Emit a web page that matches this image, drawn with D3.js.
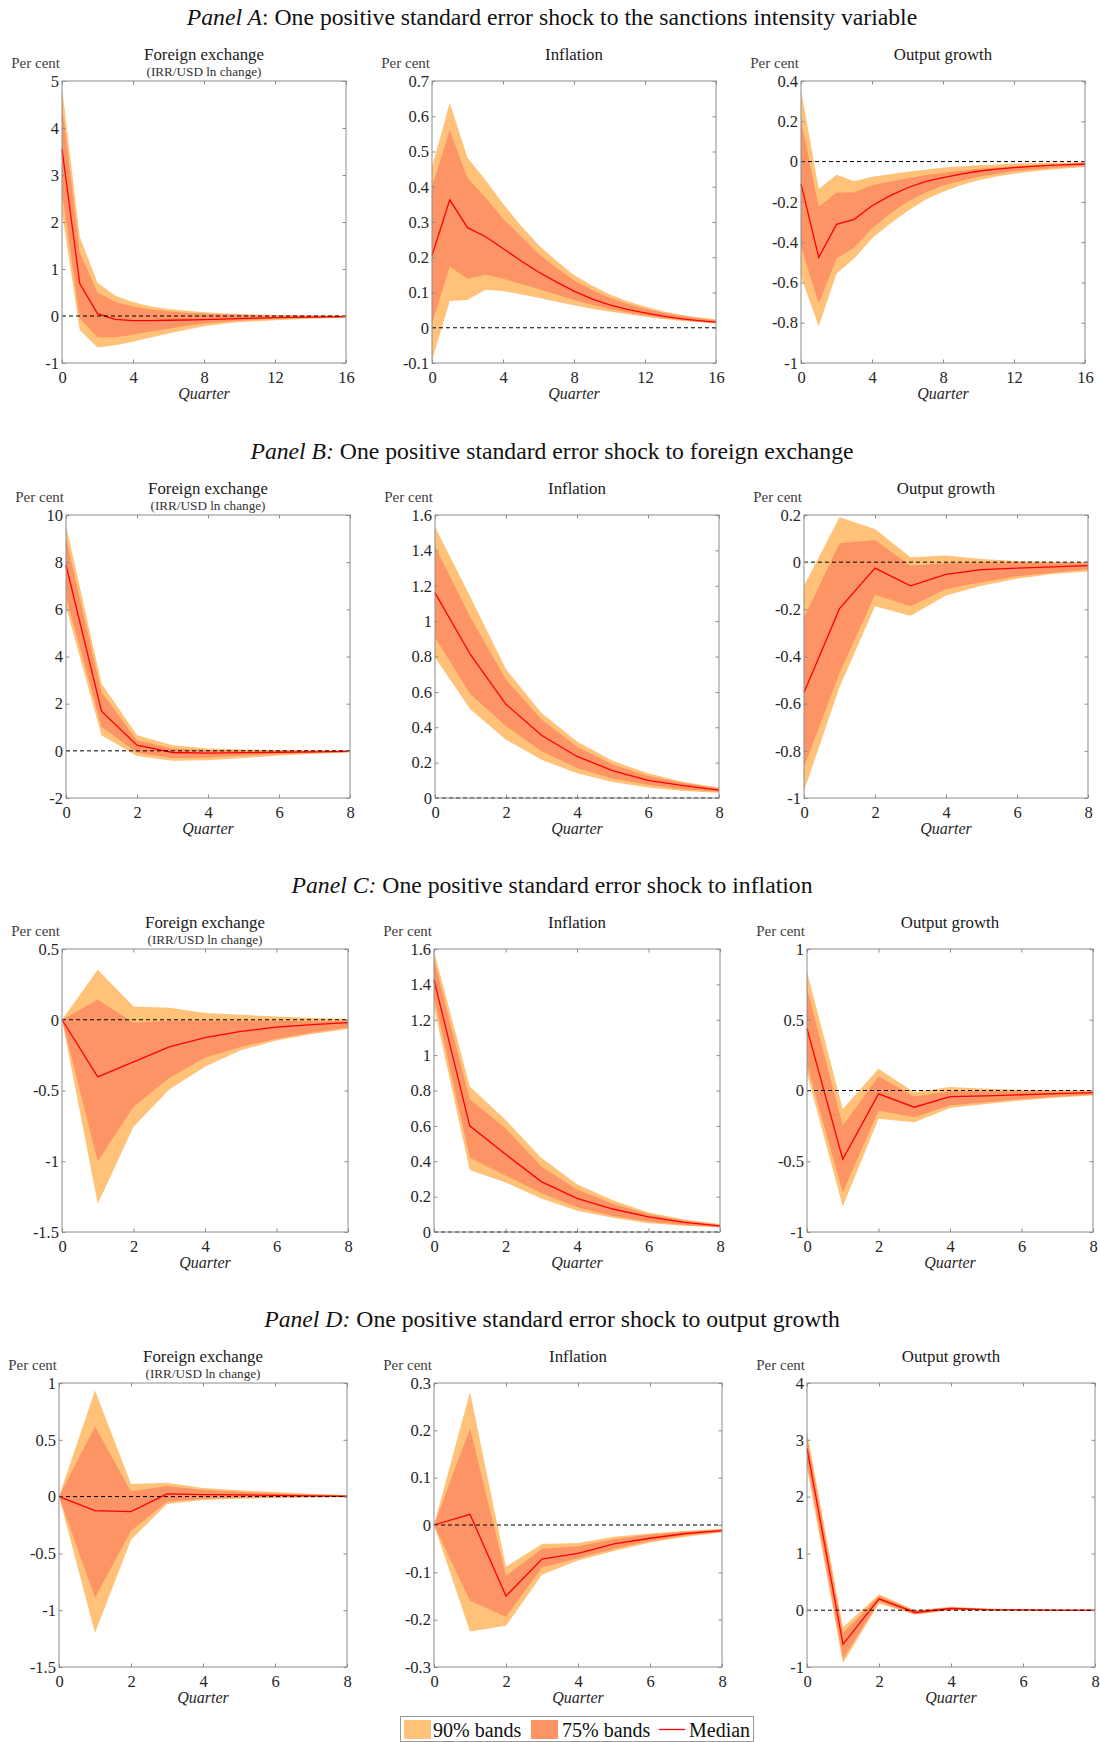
<!DOCTYPE html>
<html><head><meta charset="utf-8">
<script src="https://cdn.jsdelivr.net/npm/d3@7"></script>
<style>body{margin:0;background:#fff}svg{display:block}</style>
</head><body>
<svg id="c" width="1100" height="1742"></svg>
<script>
// ---------- DATA ----------
const quartersA = d3.range(0, 17);
const quartersB = d3.range(0, 9);

const panelTitles = [
  ["Panel A", ": One positive standard error shock to the sanctions intensity variable"],
  ["Panel B:", " One positive standard error shock to foreign exchange"],
  ["Panel C:", " One positive standard error shock to inflation"],
  ["Panel D:", " One positive standard error shock to output growth"]
];
const varTitles = ["Foreign exchange", "Inflation", "Output growth"];
const fxSubtitle = "(IRR/USD ln change)";
const legendLabels = ["90% bands", "75% bands", "Median"];

// Panel A
const aFxMed  = [3.55,0.69,0.05,-0.07,-0.10,-0.10,-0.09,-0.085,-0.075,-0.065,-0.055,-0.045,-0.035,-0.03,-0.025,-0.02,-0.015];
const aFxHi90 = [4.86,1.68,0.71,0.43,0.30,0.20,0.15,0.11,0.08,0.06,0.045,0.03,0.02,0.015,0.01,0.008,0.005];
const aFxHi75 = [4.48,1.35,0.50,0.30,0.20,0.14,0.10,0.07,0.05,0.035,0.025,0.018,0.012,0.008,0.005,0.003,0.002];
const aFxLo75 = [2.64,-0.05,-0.45,-0.45,-0.40,-0.33,-0.27,-0.21,-0.16,-0.13,-0.10,-0.08,-0.065,-0.055,-0.045,-0.035,-0.03];
const aFxLo90 = [2.21,-0.30,-0.67,-0.62,-0.55,-0.46,-0.37,-0.29,-0.22,-0.17,-0.13,-0.11,-0.09,-0.075,-0.06,-0.05,-0.04];

const aInfMed  = [0.205,0.363,0.284,0.259,0.225,0.19,0.158,0.13,0.104,0.082,0.065,0.052,0.042,0.033,0.026,0.02,0.016];
const aInfHi90 = [0.456,0.638,0.482,0.42,0.352,0.29,0.235,0.19,0.15,0.12,0.095,0.075,0.06,0.047,0.037,0.03,0.024];
const aInfHi75 = [0.40,0.56,0.425,0.37,0.31,0.26,0.21,0.17,0.135,0.108,0.085,0.068,0.054,0.043,0.034,0.027,0.021];
const aInfLo75 = [0.011,0.174,0.139,0.151,0.139,0.125,0.11,0.094,0.079,0.065,0.053,0.043,0.035,0.028,0.022,0.017,0.013];
const aInfLo90 = [-0.093,0.076,0.079,0.108,0.104,0.095,0.085,0.074,0.064,0.054,0.046,0.038,0.031,0.025,0.02,0.016,0.012];

const aOutMed  = [-0.111,-0.476,-0.312,-0.287,-0.219,-0.17,-0.13,-0.10,-0.08,-0.062,-0.048,-0.038,-0.03,-0.024,-0.019,-0.015,-0.012];
const aOutHi90 = [0.357,-0.136,-0.066,-0.098,-0.075,-0.063,-0.05,-0.04,-0.03,-0.024,-0.018,-0.014,-0.01,-0.008,-0.006,-0.005,-0.004];
const aOutHi75 = [0.207,-0.224,-0.153,-0.154,-0.116,-0.10,-0.083,-0.068,-0.055,-0.045,-0.036,-0.029,-0.023,-0.018,-0.014,-0.011,-0.009];
const aOutLo75 = [-0.423,-0.705,-0.481,-0.426,-0.332,-0.26,-0.20,-0.155,-0.12,-0.095,-0.075,-0.06,-0.048,-0.04,-0.033,-0.027,-0.022];
const aOutLo90 = [-0.572,-0.818,-0.556,-0.481,-0.381,-0.31,-0.245,-0.19,-0.15,-0.118,-0.093,-0.074,-0.06,-0.049,-0.04,-0.033,-0.027];

// Panel B
const bFxMed  = [7.88,1.68,0.24,-0.07,-0.10,-0.08,-0.06,-0.04,-0.02];
const bFxHi90 = [9.55,2.86,0.66,0.24,0.10,0.06,0.04,0.02,0.01];
const bFxHi75 = [9.0,2.5,0.45,0.10,0.04,0.02,0.01,0.005,0];
const bFxLo75 = [6.53,1.02,-0.08,-0.30,-0.28,-0.20,-0.13,-0.08,-0.05];
const bFxLo90 = [6.1,0.66,-0.22,-0.42,-0.40,-0.30,-0.20,-0.12,-0.07];

const bInfMed  = [1.16,0.81,0.53,0.355,0.235,0.155,0.10,0.07,0.045];
const bInfHi90 = [1.534,1.135,0.728,0.48,0.32,0.21,0.14,0.09,0.06];
const bInfHi75 = [1.42,1.02,0.67,0.444,0.29,0.19,0.125,0.085,0.055];
const bInfLo75 = [0.908,0.586,0.406,0.264,0.17,0.11,0.075,0.05,0.035];
const bInfLo90 = [0.794,0.50,0.33,0.216,0.14,0.09,0.06,0.04,0.03];

const bOutMed  = [-0.553,-0.197,-0.025,-0.10,-0.052,-0.032,-0.025,-0.02,-0.015];
const bOutHi90 = [-0.10,0.19,0.141,0.021,0.028,0.013,0.005,0.002,0.0];
const bOutHi75 = [-0.237,0.08,0.094,-0.015,-0.004,0.0,-0.003,-0.005,-0.005];
const bOutLo75 = [-0.87,-0.47,-0.138,-0.187,-0.114,-0.085,-0.06,-0.045,-0.03];
const bOutLo90 = [-0.97,-0.53,-0.187,-0.227,-0.141,-0.10,-0.07,-0.05,-0.04];

// Panel C
const cFxMed  = [0,-0.404,-0.298,-0.192,-0.127,-0.082,-0.052,-0.035,-0.02];
const cFxHi90 = [0,0.354,0.094,0.085,0.047,0.035,0.023,0.012,0.005];
const cFxHi75 = [0,0.141,-0.021,-0.005,-0.005,-0.005,-0.007,-0.01,-0.01];
const cFxLo75 = [0,-1.0,-0.615,-0.411,-0.268,-0.192,-0.134,-0.09,-0.055];
const cFxLo90 = [0,-1.3,-0.756,-0.493,-0.333,-0.216,-0.146,-0.10,-0.065];

const cInfMed  = [1.426,0.60,0.44,0.285,0.19,0.13,0.085,0.055,0.035];
const cInfHi90 = [1.587,0.823,0.634,0.42,0.27,0.18,0.11,0.07,0.045];
const cInfHi75 = [1.54,0.75,0.587,0.37,0.24,0.16,0.10,0.065,0.04];
const cInfLo75 = [1.33,0.42,0.32,0.22,0.14,0.09,0.06,0.04,0.028];
const cInfLo90 = [1.27,0.35,0.28,0.19,0.12,0.08,0.05,0.035,0.025];

const cOutMed  = [0.437,-0.486,-0.024,-0.118,-0.043,-0.038,-0.03,-0.022,-0.015];
const cOutHi90 = [0.839,-0.13,0.154,-0.012,0.024,0.012,0.005,0.002,0];
const cOutHi75 = [0.721,-0.248,0.099,-0.043,-0.005,-0.005,-0.006,-0.007,-0.007];
const cOutLo75 = [0.18,-0.72,-0.142,-0.189,-0.106,-0.083,-0.06,-0.045,-0.03];
const cOutLo90 = [0.12,-0.82,-0.20,-0.225,-0.123,-0.095,-0.07,-0.05,-0.035];

// Panel D
const dFxMed  = [0,-0.124,-0.132,0.024,0.018,0.015,0.01,0.006,0.003];
const dFxHi90 = [0,0.935,0.112,0.121,0.076,0.055,0.04,0.025,0.012];
const dFxHi75 = [0,0.618,0.044,0.094,0.059,0.04,0.028,0.018,0.01];
const dFxLo75 = [0,-0.89,-0.30,-0.045,-0.02,-0.01,-0.005,-0.003,-0.002];
const dFxLo90 = [0,-1.2,-0.38,-0.065,-0.03,-0.02,-0.012,-0.007,-0.004];

const dInfMed  = [0,0.0225,-0.15,-0.072,-0.06,-0.04,-0.028,-0.018,-0.012];
const dInfHi90 = [0,0.281,-0.088,-0.04,-0.038,-0.025,-0.018,-0.012,-0.008];
const dInfHi75 = [0,0.204,-0.107,-0.05,-0.045,-0.03,-0.02,-0.014,-0.009];
const dInfLo75 = [0,-0.16,-0.194,-0.09,-0.07,-0.05,-0.034,-0.022,-0.014];
const dInfLo90 = [0,-0.225,-0.213,-0.105,-0.075,-0.055,-0.037,-0.025,-0.016];

const dOutMed  = [2.85,-0.6,0.2,-0.04,0.03,0.01,0.005,0,0];
const dOutHi90 = [3.14,-0.3,0.28,0.0,0.06,0.03,0.015,0.006,0.003];
const dOutHi75 = [3.05,-0.4,0.25,-0.01,0.05,0.02,0.01,0.004,0.002];
const dOutLo75 = [2.6,-0.85,0.15,-0.07,0.01,0.0,0.0,-0.004,-0.002];
const dOutLo90 = [2.5,-0.93,0.12,-0.08,0.0,-0.01,-0.005,-0.006,-0.003];

// axis ranges / ticks
const xTicksA = [0,4,8,12,16];
const xTicksB = [0,2,4,6,8];
const yTicksAFx  = [-1,0,1,2,3,4,5];
const yTicksAInf = [-0.1,0,0.1,0.2,0.3,0.4,0.5,0.6,0.7];
const yTicksAOut = [-1,-0.8,-0.6,-0.4,-0.2,0,0.2,0.4];
const yTicksBFx  = [-2,0,2,4,6,8,10];
const yTicksBInf = [0,0.2,0.4,0.6,0.8,1,1.2,1.4,1.6];
const yTicksBOut = [-1,-0.8,-0.6,-0.4,-0.2,0,0.2];
const yTicksCFx  = [-1.5,-1,-0.5,0,0.5];
const yTicksCInf = [0,0.2,0.4,0.6,0.8,1,1.2,1.4,1.6];
const yTicksCOut = [-1,-0.5,0,0.5,1];
const yTicksDFx  = [-1.5,-1,-0.5,0,0.5,1];
const yTicksDInf = [-0.3,-0.2,-0.1,0,0.1,0.2,0.3];
const yTicksDOut = [-1,0,1,2,3,4];

// ---------- BUILD ----------
const panelsData = [
  {q: quartersA, xt: xTicksA, plots: [
    {med:aFxMed, hi90:aFxHi90, hi75:aFxHi75, lo75:aFxLo75, lo90:aFxLo90, yt:yTicksAFx},
    {med:aInfMed, hi90:aInfHi90, hi75:aInfHi75, lo75:aInfLo75, lo90:aInfLo90, yt:yTicksAInf},
    {med:aOutMed, hi90:aOutHi90, hi75:aOutHi75, lo75:aOutLo75, lo90:aOutLo90, yt:yTicksAOut}]},
  {q: quartersB, xt: xTicksB, plots: [
    {med:bFxMed, hi90:bFxHi90, hi75:bFxHi75, lo75:bFxLo75, lo90:bFxLo90, yt:yTicksBFx},
    {med:bInfMed, hi90:bInfHi90, hi75:bInfHi75, lo75:bInfLo75, lo90:bInfLo90, yt:yTicksBInf},
    {med:bOutMed, hi90:bOutHi90, hi75:bOutHi75, lo75:bOutLo75, lo90:bOutLo90, yt:yTicksBOut}]},
  {q: quartersB, xt: xTicksB, plots: [
    {med:cFxMed, hi90:cFxHi90, hi75:cFxHi75, lo75:cFxLo75, lo90:cFxLo90, yt:yTicksCFx},
    {med:cInfMed, hi90:cInfHi90, hi75:cInfHi75, lo75:cInfLo75, lo90:cInfLo90, yt:yTicksCInf},
    {med:cOutMed, hi90:cOutHi90, hi75:cOutHi75, lo75:cOutLo75, lo90:cOutLo90, yt:yTicksCOut}]},
  {q: quartersB, xt: xTicksB, plots: [
    {med:dFxMed, hi90:dFxHi90, hi75:dFxHi75, lo75:dFxLo75, lo90:dFxLo90, yt:yTicksDFx},
    {med:dInfMed, hi90:dInfHi90, hi75:dInfHi75, lo75:dInfLo75, lo90:dInfLo90, yt:yTicksDInf},
    {med:dOutMed, hi90:dOutHi90, hi75:dOutHi75, lo75:dOutLo75, lo90:dOutLo90, yt:yTicksDOut}]}
];

// layout
const rowLayout = [
  {top:81,  bottom:363,  lefts:[62,432,801], w:284, titleY:25},
  {top:515, bottom:798,  lefts:[66,435,804], w:284, titleY:459},
  {top:949, bottom:1232, lefts:[62,434,807], w:286, titleY:893},
  {top:1383,bottom:1667, lefts:[59,434,807], w:288, titleY:1327}
];
const C90 = "#ffc278", C75 = "#fd9466", CMED = "#ff0000", AXC = "#8c8c8c", TXT = "#262626";
const SERIF = "'Liberation Serif','Times New Roman',serif";

const svg = d3.select("#c");
svg.append("rect").attr("width",1100).attr("height",1742).attr("fill","#fff");

const fmt = v => { let s = String(+v.toFixed(2)); return s === "-0" ? "0" : s; };

panelsData.forEach((P, r) => {
  const L = rowLayout[r];
  const t = svg.append("text").attr("x", 552).attr("y", L.titleY).attr("text-anchor","middle")
    .attr("font-family", SERIF).attr("font-size", 23.7).attr("fill","#111");
  t.append("tspan").attr("font-style","italic").text(panelTitles[r][0]);
  t.append("tspan").text(panelTitles[r][1]);

  P.plots.forEach((p, k) => {
    const x0 = L.lefts[k], x1 = x0 + L.w;
    const yt = p.yt;
    const x = d3.scaleLinear().domain([0, P.q[P.q.length-1]]).range([x0, x1]);
    const y = d3.scaleLinear().domain([yt[0], yt[yt.length-1]]).range([L.bottom, L.top]);
    const g = svg.append("g");

    const band = (lo, hi) => d3.area().x((d,i)=>x(P.q[i])).y0((d,i)=>y(lo[i])).y1((d,i)=>y(hi[i]));
    g.append("path").attr("d", band(p.lo90, p.hi90)(P.q)).attr("fill", C90);
    g.append("path").attr("d", band(p.lo75, p.hi75)(P.q)).attr("fill", C75);
    g.append("path").attr("d", d3.line().x((d,i)=>x(P.q[i])).y(d=>y(d))(p.med))
      .attr("fill","none").attr("stroke", CMED).attr("stroke-width",1.3);
    g.append("line").attr("x1",x0).attr("x2",x1).attr("y1",y(0)).attr("y2",y(0))
      .attr("stroke","#000").attr("stroke-width",1).attr("stroke-dasharray","4,3");

    const tk = 3.5;
    const ax = (a) => a.attr("font-family", SERIF).attr("font-size", 16.5).call(s => {
      s.select(".domain").remove();
      s.selectAll(".tick line").attr("stroke", AXC);
      s.selectAll(".tick text").attr("fill", TXT);
    });
    svg.append("g").attr("transform",`translate(0,${L.bottom})`)
      .call(d3.axisBottom(x).tickValues(P.xt).tickFormat(fmt).tickSize(-tk).tickPadding(8)).call(ax);
    svg.append("g").attr("transform",`translate(0,${L.top})`)
      .call(d3.axisTop(x).tickValues(P.xt).tickFormat("").tickSize(-tk)).call(ax);
    svg.append("g").attr("transform",`translate(${x0},0)`)
      .call(d3.axisLeft(y).tickValues(yt).tickFormat(fmt).tickSize(-tk).tickPadding(3)).call(ax);
    svg.append("g").attr("transform",`translate(${x1},0)`)
      .call(d3.axisRight(y).tickValues(yt).tickFormat("").tickSize(-tk)).call(ax);
    svg.append("rect").attr("x",x0).attr("y",L.top).attr("width",L.w).attr("height",L.bottom-L.top)
      .attr("fill","none").attr("stroke",AXC).attr("stroke-width",1);

    const cx = (x0 + x1) / 2;
    svg.append("text").attr("x",cx).attr("y",L.top-21).attr("text-anchor","middle")
      .attr("font-family",SERIF).attr("font-size",16.8).attr("fill","#1a1a1a").text(varTitles[k]);
    if (k === 0) {
      svg.append("text").attr("x",cx).attr("y",L.top-5).attr("text-anchor","middle")
        .attr("font-family",SERIF).attr("font-size",13.2).attr("fill","#333").text(fxSubtitle);
    }
    svg.append("text").attr("x",x0-2).attr("y",L.top-13).attr("text-anchor","end")
      .attr("font-family",SERIF).attr("font-size",15).attr("fill","#404040").text("Per cent");
    svg.append("text").attr("x",cx).attr("y",L.bottom+36).attr("text-anchor","middle")
      .attr("font-family",SERIF).attr("font-style","italic").attr("font-size",16).attr("fill","#262626").text("Quarter");
  });
});

// legend
const lg = svg.append("g");
lg.append("rect").attr("x",400.5).attr("y",1716.5).attr("width",353).attr("height",25)
  .attr("fill","#fff").attr("stroke","#999").attr("stroke-width",1);
const legItems = [
  {type:"patch", color:C90, px:404, tx:433},
  {type:"patch", color:C75, px:531, tx:562},
  {type:"line",  color:CMED, px:659, tx:689}
];
legItems.forEach((it, i) => {
  if (it.type === "patch") {
    lg.append("rect").attr("x",it.px).attr("y",1720).attr("width",27).attr("height",19).attr("fill",it.color);
  } else {
    lg.append("line").attr("x1",it.px).attr("x2",it.px+26).attr("y1",1729.5).attr("y2",1729.5)
      .attr("stroke",it.color).attr("stroke-width",1.3);
  }
  lg.append("text").attr("x",it.tx).attr("y",1737).attr("font-family",SERIF).attr("font-size",20)
    .attr("fill","#111").text(legendLabels[i]);
});
</script>
</body></html>
